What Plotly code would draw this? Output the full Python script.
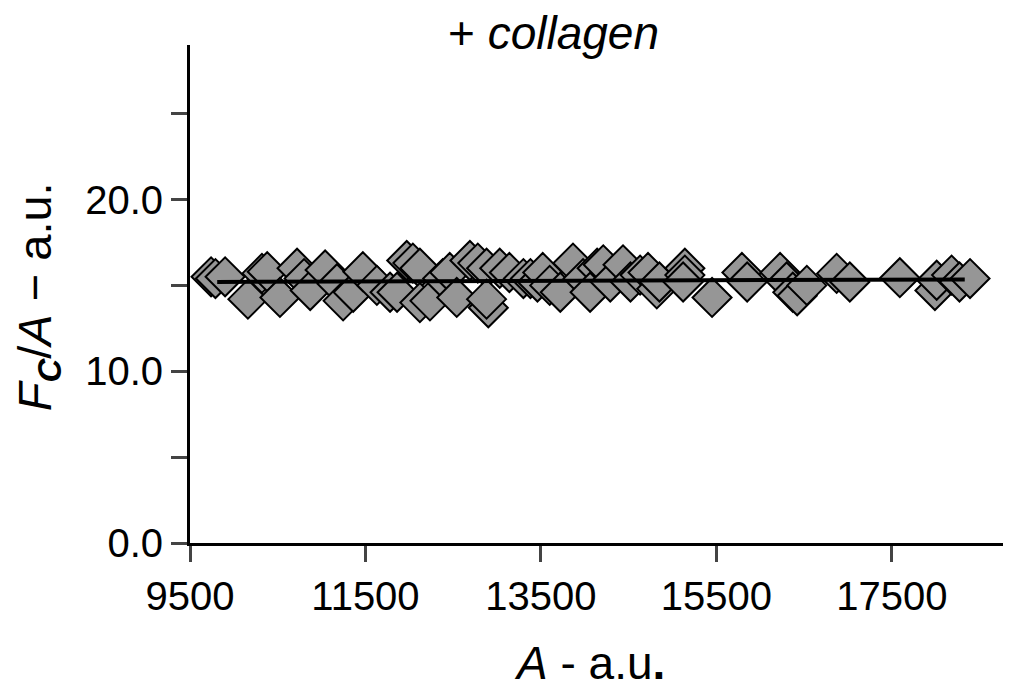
import plotly.graph_objects as go

# collagen condition: A (a.u.) vs Fc/A (a.u.)
a_vals = [9740, 9790, 9900, 10160, 10320, 10380, 10525, 10720, 10800, 10870,
          11040, 11175, 11245, 11360, 11470, 11630, 11780,
          11860, 11970, 12040, 12120, 12120, 12235, 12380, 12460, 12540, 12690,
          12780, 12880, 12900, 12880, 13030, 13140, 13300, 13380, 13460, 13520,
          13600, 13720, 13865, 13980, 14140,
          14060, 14210, 14290, 14435, 14520, 14630, 14720, 14820, 14850, 15140,
          15140, 15120, 15450, 15790, 15850, 16225, 16300, 16370,
          16420, 16530, 16870, 17020, 17590, 17990, 18010, 18180, 18270, 18390]
fc_ratio = [15.5, 15.4, 15.5, 14.2, 15.7, 15.8, 14.3, 16.0, 15.4, 14.7,
            15.9, 15.1, 14.1, 14.6, 15.8, 15.0, 14.6,
            14.6, 16.45, 16.3, 16.0, 14.0, 14.1, 15.4, 15.75, 14.3, 16.45,
            16.3, 16.0, 13.7, 14.2, 16.0, 15.75, 15.4, 15.4, 15.2, 15.75,
            15.0, 14.6, 16.3, 15.4, 16.0,
            14.6, 16.2, 15.2, 16.2, 15.2, 15.6, 15.75, 14.8, 15.2, 16.0,
            15.6, 15.2, 14.3, 15.75, 15.2, 15.75, 15.2, 14.6,
            14.4, 15.0, 15.7, 15.2, 15.45, 14.7, 15.3, 15.6, 15.2, 15.4]

fit_x = [9810, 18330]
fit_y = [15.2, 15.35]

x_ticks = [9500, 11500, 13500, 15500, 17500]
x_labels = ["9500", "11500", "13500", "15500", "17500"]
y_ticks = [0, 5, 10, 15, 20, 25]
y_labels = ["0.0", "", "10.0", "", "20.0", ""]

font = "Liberation Sans, Arial, Helvetica, sans-serif"

fig = go.Figure()
fig.add_trace(go.Scatter(x=a_vals, y=fc_ratio, mode="markers",
                         marker=dict(symbol="diamond", size=30, color="rgb(150,150,150)",
                                     line=dict(color="black", width=2)),
                         showlegend=False))
fig.add_trace(go.Scatter(x=fit_x, y=fit_y, mode="lines",
                         line=dict(color="black", width=4), showlegend=False))

# page body adds an 8px margin, so the figure is a bit smaller than the window
fig.update_layout(
    width=1003, height=681,
    margin=dict(l=182, r=5, t=37, b=146, autoexpand=False),
    paper_bgcolor="white", plot_bgcolor="white",
    font=dict(family=font, size=40, color="black"),
    annotations=[
        dict(text="+ <i>collagen</i>", xref="paper", yref="paper", x=0.446, y=1.025,
             xanchor="center", yanchor="middle", showarrow=False, font=dict(size=46)),
        dict(text="<i>A</i> - a.u<b>.</b>", xref="paper", yref="paper", x=0.49, y=-0.241,
             xanchor="center", yanchor="middle", showarrow=False, font=dict(size=46)),
        dict(text="<i>F<sub><b>C</b></sub></i>/<i>A</i> \u2212 a.u.", xref="paper", yref="paper",
             x=-0.186, y=0.494, textangle=-90,
             xanchor="center", yanchor="middle", showarrow=False, font=dict(size=47)),
    ],
)
fig.update_xaxes(range=[9500, 18800], tickvals=x_ticks, ticktext=x_labels, ticks="outside",
                 ticklen=16, tickwidth=3, showline=True, linewidth=3, linecolor="black",
                 showgrid=False, zeroline=False, automargin=False)
fig.update_yaxes(range=[0, 29], tickvals=y_ticks, ticktext=y_labels, ticks="outside",
                 ticklen=16, tickwidth=3, showline=True, linewidth=3, linecolor="black",
                 showgrid=False, zeroline=False, automargin=False)

fig.write_html("out.html")
